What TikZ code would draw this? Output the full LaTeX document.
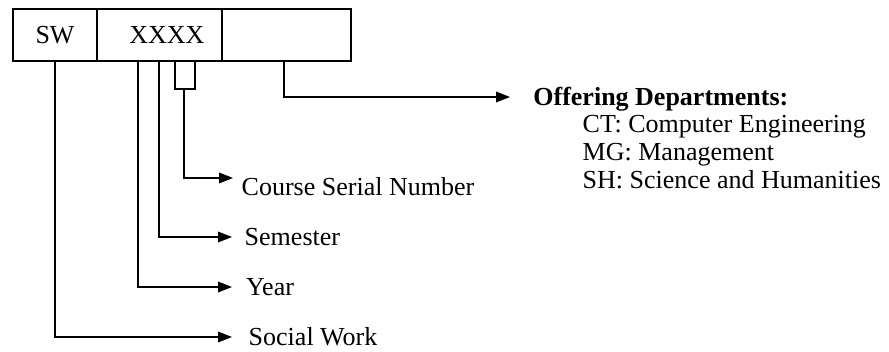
\documentclass[tikz,border=0pt]{standalone}
\usepackage{fontspec}
\setmainfont{Liberation Serif}
\usetikzlibrary{arrows.meta}

\begin{document}
\begin{tikzpicture}[x=0.75pt,y=-0.75pt,line width=1.1pt,
    font=\fontsize{19.5pt}{23pt}\selectfont,
    >={Triangle[length=10.5pt,width=8pt]},
    cell/.style={draw,minimum height=39pt,inner sep=0pt},
    lbl/.style={anchor=west,inner xsep=6pt,inner ysep=0pt,text height=12.8pt,text depth=0pt},
    dept/.style={anchor=base west,inner sep=0pt}]
    \useasboundingbox (0,0) rectangle (889,352);
    % the code box
    \node [cell,minimum width=63pt] (sw) at (55,35) {SW};
    \node [cell,minimum width=93.75pt] (xx) at (159.5,35) {\hspace{11pt}XXXX};
    \node [cell,minimum width=96.75pt] (dp) at (286.5,35) {};
    % where the lines leave the box
    \coordinate (yr0) at (138,61);
    \coordinate (sm0) at (159,61);
    \coordinate (br1) at (175,61);
    \coordinate (br2) at (195,61);
    \coordinate (cs0) at (184,89);
    \coordinate (dp0) at (284,61);
    % labels
    \node [lbl,anchor=north west] (course) at (233,178) {Course Serial Number};
    \node [lbl,inner xsep=9pt] (sem) at (232,237) {Semester};
    \node [lbl,inner xsep=10pt] (year) at (232,287) {Year};
    \node [lbl,inner xsep=12pt] (social) at (232,337) {Social Work};
    \node [lbl,inner xsep=17pt] (offer) at (510,97) {\textbf{Offering Departments:}};
    \node [dept] (ct) at (582,133) {CT: Computer Engineering};
    \node [dept] (mg) at (582,161) {MG: Management};
    \node [dept] (sh) at (582,189) {SH: Science and Humanities};
    % connectors
    \draw [->] (sw.south) |- (social.west);
    \draw [->] (yr0) |- (year.west);
    \draw [->] (sm0) |- (sem.west);
    \draw (br1) |- (cs0) -| (br2);
    \draw [->] (cs0) |- (course.north west);
    \draw [->] (dp0) |- (offer.west);
\end{tikzpicture}
\end{document}
